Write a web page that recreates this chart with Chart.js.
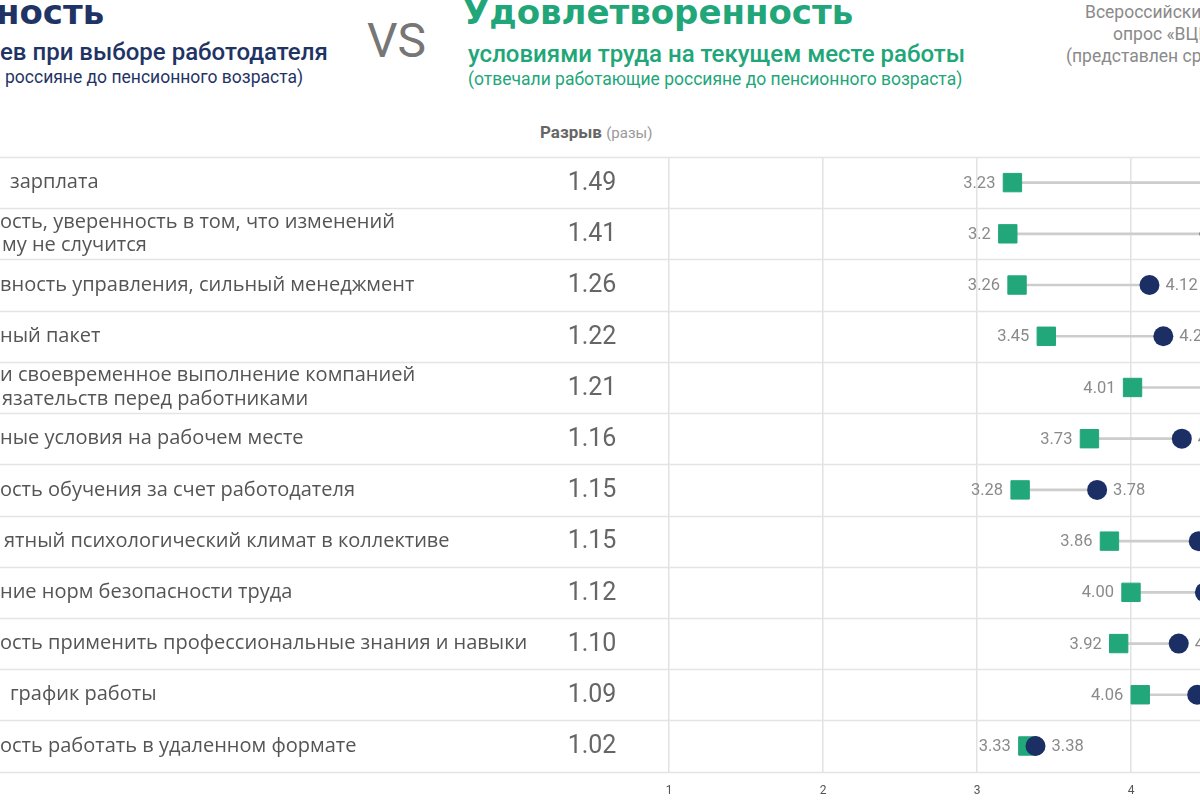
<!DOCTYPE html>
<html>
<head>
<meta charset="utf-8">
<script src="https://cdn.jsdelivr.net/npm/chart.js"></script>
<style>
  html, body { margin: 0; padding: 0; background: #fff; }
  body { width: 1200px; height: 800px; overflow: hidden; position: relative; font-family: Roboto, sans-serif; }
  .wrap { position: absolute; left: 0; top: 0; width: 1330px; height: 812px; }
  .t { position: absolute; white-space: nowrap; }
</style>
</head>
<body>
<div class="t" style="left:-4px;top:-8px;font:bold 34px 'DejaVu Sans';color:#1f3465;">ность</div>
<div class="t" style="left:0;top:38px;font:500 24px Roboto;color:#1f3465;">ев при выборе работодателя</div>
<div class="t" style="left:5px;top:67px;font:17.5px Roboto;color:#1f3465;">россияне до пенсионного возраста)</div>
<div class="t" style="left:367px;top:12px;font:48px Roboto;color:#767676;">VS</div>
<div class="t" style="left:463px;top:-8px;font:bold 34px 'DejaVu Sans';color:#21a679;">Удовлетворенность</div>
<div class="t" style="left:468px;top:40px;font:500 24px Roboto;color:#21a679;">условиями труда на текущем месте работы</div>
<div class="t" style="left:468px;top:69px;font:17.5px Roboto;color:#21a679;">(отвечали работающие россияне до пенсионного возраста)</div>
<div class="t" style="left:1085px;top:2px;font:17.5px Roboto;color:#8a8a8a;">Всероссийский</div>
<div class="t" style="left:1113px;top:24px;font:17.5px Roboto;color:#8a8a8a;">опрос «ВЦИОМ-Спутник»</div>
<div class="t" style="left:1066px;top:46px;font:17.5px Roboto;color:#8a8a8a;">(представлен средний балл)</div>
<div class="t" style="left:540px;top:122px;font:bold 17px Roboto;color:#666;">Разрыв <span style="font-weight:400;font-size:15px;color:#999;">(разы)</span></div>

<div class="wrap"><canvas id="chart"></canvas></div>

<script>
// visible part of each row label (the left edge of the picture cuts the start)
const categories = [
  ["зарплата"],
  ["ость, уверенность в том, что изменений", "му не случится"],
  ["вность управления, сильный менеджмент"],
  ["ный пакет"],
  ["и своевременное выполнение компанией", "язательств перед работниками"],
  ["ные условия на рабочем месте"],
  ["ость обучения за счет работодателя"],
  ["ятный психологический климат в коллективе"],
  ["ние норм безопасности труда"],
  ["ость применить профессиональные знания и навыки"],
  ["график работы"],
  ["ость работать в удаленном формате"]
];
const labelIndent = [10, 0, 0, 0, 0, 0, 0, 4, 0, 0, 10, 0];
const gapValues = [1.49, 1.41, 1.26, 1.22, 1.21, 1.16, 1.15, 1.15, 1.12, 1.10, 1.09, 1.02];
// green squares: satisfaction
const satisfaction = [3.23, 3.2, 3.26, 3.45, 4.01, 3.73, 3.28, 3.86, 4.00, 3.92, 4.06, 3.33];
const satisfactionLabels = ["3.23", "3.2", "3.26", "3.45", "4.01", "3.73", "3.28", "3.86", "4.00", "3.92", "4.06", "3.33"];
// navy circles: importance (off-picture ones estimated)
const importance = [4.81, 4.51, 4.12, 4.21, 4.85, 4.33, 3.78, 4.44, 4.48, 4.31, 4.43, 3.38];
const xTicks = [1, 2, 3, 4, 5];

const GREEN = "#22a77a";
const NAVY = "#1c2f64";

const sidePlugin = {
  id: "side",
  beforeDatasetsDraw(chart) {
    const { ctx, chartArea, scales } = chart;
    const y = scales.y;
    const n = categories.length;
    const step = (y.getPixelForValue(n - 1) - y.getPixelForValue(0)) / (n - 1);
    ctx.save();
    ctx.strokeStyle = "#e4e4e4";
    ctx.lineWidth = 1.5;
    for (let i = 0; i <= n; i++) {
      const py = Math.round(y.getPixelForValue(0) - step / 2 + i * step) + 0.5;
      ctx.beginPath();
      ctx.moveTo(0, py);
      ctx.lineTo(chartArea.right, py);
      ctx.stroke();
    }
    ctx.restore();
  },
  afterDatasetsDraw(chart) {
    const { ctx, scales } = chart;
    const y = scales.y;
    ctx.save();
    ctx.textBaseline = "middle";
    categories.forEach((lines, i) => {
      const cy = y.getPixelForValue(i);
      ctx.fillStyle = "#555";
      ctx.font = "20px 'Open Sans'";
      ctx.textAlign = "left";
      lines.forEach((line, k) => {
        const off = (k - (lines.length - 1) / 2) * 23.5;
        ctx.fillText(line, labelIndent[i] + (k === 1 ? 2 : 0), cy + off);
      });
      ctx.fillStyle = "#666";
      ctx.font = "25px Roboto";
      ctx.textAlign = "center";
      ctx.fillText(gapValues[i].toFixed(2), 592, cy + 1);
    });
    ctx.font = "16.5px Roboto";
    ctx.fillStyle = "#8a8a8a";
    const sq = chart.getDatasetMeta(1).data;
    const ci = chart.getDatasetMeta(2).data;
    sq.forEach((p, i) => {
      ctx.textAlign = "right";
      ctx.fillText(satisfactionLabels[i], p.x - 17, p.y + 1);
    });
    ci.forEach((p, i) => {
      ctx.textAlign = "left";
      ctx.fillText(importance[i].toFixed(2), p.x + 16, p.y + 1);
    });
    ctx.restore();
  }
};

new Chart(document.getElementById("chart"), {
  type: "bar",
  data: {
    labels: categories,
    datasets: [
      {
        type: "bar",
        data: satisfaction.map((v, i) => [v, importance[i]]),
        backgroundColor: "#cdcdcd",
        barThickness: 2,
        order: 3
      },
      {
        type: "line",
        indexAxis: "y",
        data: satisfaction,
        showLine: false,
        pointStyle: "rect",
        pointRadius: 13,
        pointBackgroundColor: GREEN,
        pointBorderColor: GREEN,
        pointBorderWidth: 1,
        order: 2
      },
      {
        type: "line",
        indexAxis: "y",
        data: importance,
        showLine: false,
        pointStyle: "circle",
        pointRadius: 10,
        pointBackgroundColor: NAVY,
        pointBorderColor: NAVY,
        pointBorderWidth: 0,
        order: 1
      }
    ]
  },
  options: {
    indexAxis: "y",
    responsive: true,
    maintainAspectRatio: false,
    animation: false,
    layout: { padding: { left: 669, top: 157, right: 45, bottom: 2 } },
    plugins: { legend: { display: false }, tooltip: { enabled: false } },
    scales: {
      y: { type: "category", display: false },
      x: {
        type: "linear",
        min: xTicks[0],
        max: xTicks[xTicks.length - 1],
        afterBuildTicks(axis) { axis.ticks = xTicks.map(v => ({ value: v })); },
        border: { display: false },
        grid: { color: "#e2e2e2", lineWidth: 1.5, drawTicks: false },
        ticks: { color: "#555", font: { size: 12, family: "Roboto" }, padding: 12 }
      }
    }
  },
  plugins: [sidePlugin]
});
</script>
</body>
</html>
